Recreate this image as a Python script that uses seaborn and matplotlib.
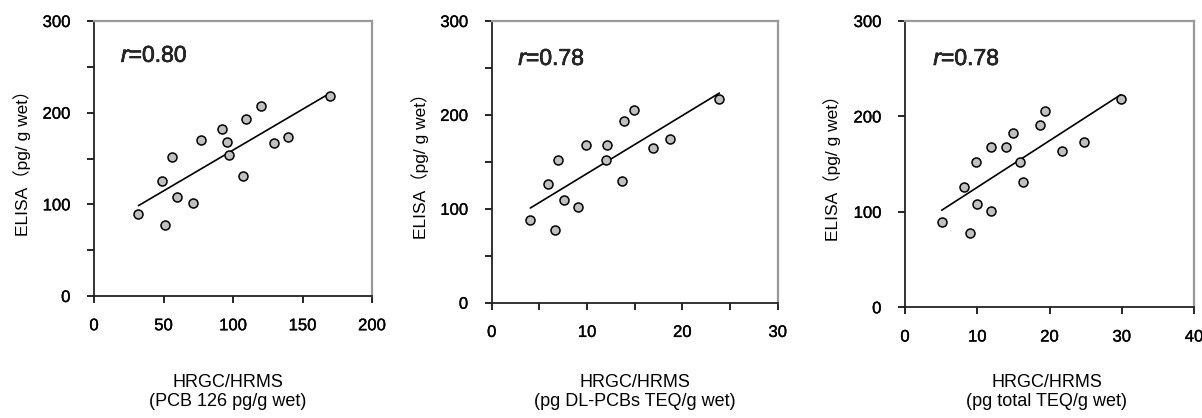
import numpy as np
import pandas as pd
import matplotlib
matplotlib.use("Agg")
import matplotlib.pyplot as plt
import matplotlib.patheffects as pe
import seaborn as sns

# ELISA values (pg/g wet), shared y across panels
elisa_p1 = [89, 78, 126, 152, 108, 102, 170, 182, 168, 154, 131, 193, 207, 167, 174, 218]
pcb126 = [32, 51.3, 49.2, 56.1, 59.5, 71.2, 77.2, 92.3, 95.5, 97.1, 107.2, 109.4, 120.1, 129.3, 139.8, 170]

elisa_p2 = [88, 77, 126, 152, 109, 102, 168, 168, 152, 130, 193, 205, 165, 174, 217]
dl_pcbs_teq = [4.05, 6.64, 5.94, 6.99, 7.55, 9.05, 9.92, 12.13, 11.99, 13.7, 13.88, 14.93, 16.95, 18.74, 23.88]

elisa_p3 = [89, 78, 126, 152, 108, 101, 168, 168, 183, 152, 131, 191, 206, 164, 173, 218]
total_teq = [5.08, 9.04, 8.12, 9.78, 9.97, 11.86, 11.86, 13.93, 14.9, 15.87, 16.33, 18.69, 19.38, 21.68, 24.73, 29.85]

r_labels = ["0.80", "0.78", "0.78"]
x_labels = ["HRGC/HRMS\n(PCB 126 pg/g wet)",
            "HRGC/HRMS\n(pg DL-PCBs TEQ/g wet)",
            "HRGC/HRMS\n(pg total TEQ/g wet)"]

sns.set_theme(style="white")
plt.rcParams["font.family"] = ["Liberation Sans", "Noto Sans CJK JP", "DejaVu Sans"]
plt.rcParams["mathtext.fontset"] = "custom"
plt.rcParams["mathtext.rm"] = "Liberation Sans"
plt.rcParams["mathtext.it"] = "Liberation Sans:italic"

light = [pe.withStroke(linewidth=0.25, foreground="black")]
medium = [pe.withStroke(linewidth=0.45, foreground="black")]

W, H = 1202, 418
fig = plt.figure(figsize=(W / 100, H / 100), dpi=100)

# axes boxes in pixels: left, right, top, bottom
boxes = [(94, 372, 21, 296), (491.7, 777.7, 21, 302.7), (905, 1194, 21, 307.3)]
panels = [
    (pcb126, elisa_p1, 200, 50, [0, 50, 100, 150, 200], 50),
    (dl_pcbs_teq, elisa_p2, 30, 5, [0, 10, 20, 30], 50),
    (total_teq, elisa_p3, 40, 10, [0, 10, 20, 30, 40], 100),
]
ylab_x = [21.7, 420, 831.7]
xlab_x = [227.5, 635, 1047]
r_pos = [(0.097, 0.875), (0.093, 0.867), (0.098, 0.869)]

for i, (xs, ys, xmax, xstep, xlab_ticks, ystep) in enumerate(panels):
    l, r, t, b = boxes[i]
    ax = fig.add_axes([l / W, 1 - b / H, (r - l) / W, (b - t) / H])
    df = pd.DataFrame({"x": xs, "y": ys})
    sns.regplot(data=df, x="x", y="y", ax=ax, ci=None,
                scatter_kws=dict(s=42, color="#c0c0c0", edgecolor="black", linewidths=1.1, alpha=1, zorder=3),
                line_kws=dict(color="black", lw=1.2, zorder=2))
    ax.set_xlim(0, xmax)
    ax.set_ylim(0, 300)
    xt = np.arange(0, xmax + 0.1, xstep)
    ax.set_xticks(xt)
    ax.set_xticklabels([str(int(v)) if v in xlab_ticks else "" for v in xt])
    yt = np.arange(0, 301, ystep)
    ax.set_yticks(yt)
    ax.set_yticklabels([str(int(v)) if v % 100 == 0 else "" for v in yt])
    ax.tick_params(axis="both", which="major", direction="out", length=5, width=1.2,
                   color="black", labelsize=12, labelcolor="black")
    ax.tick_params(axis="x", pad=11, bottom=True)
    ax.tick_params(axis="y", pad=12, left=True)
    for lab in ax.get_xticklabels() + ax.get_yticklabels():
        lab.set_path_effects(light)
    for s in ["left", "bottom"]:
        ax.spines[s].set_color("#222222")
        ax.spines[s].set_linewidth(1.3)
    for s in ["top", "right"]:
        ax.spines[s].set_color("#999999")
        ax.spines[s].set_linewidth(1.6)
    ax.set_xlabel(x_labels[i], fontsize=13, color="black", linespacing=1.1)
    ax.xaxis.set_label_coords((xlab_x[i] - l) / (r - l), 1 - (392 - t) / (b - t))
    ax.xaxis.label.set_va("center")
    ax.set_ylabel("ELISA（pg/ g wet）", fontsize=12.5, color="black")
    ax.yaxis.set_label_coords((ylab_x[i] - l) / (r - l), 0.5)
    ax.yaxis.label.set_va("center")
    ax.text(r_pos[i][0], r_pos[i][1], "$r$=" + r_labels[i], fontsize=16.5,
            transform=ax.transAxes, ha="left", va="center", path_effects=medium)

fig.savefig("out.png", dpi=100)
